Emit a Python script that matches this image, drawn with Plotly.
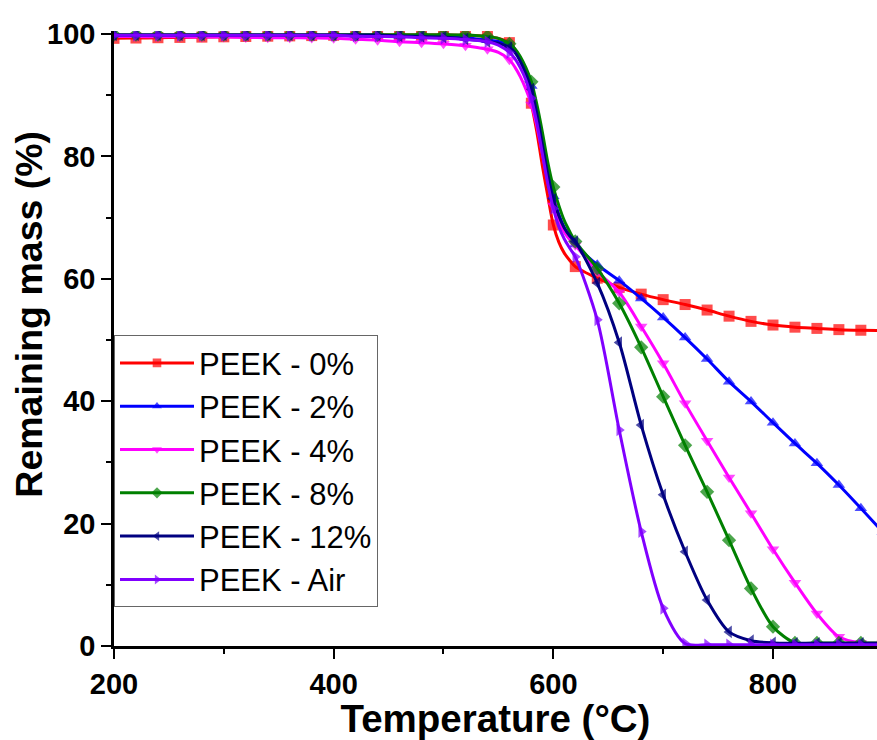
import plotly.graph_objects as go

temperature = [200, 220, 240, 260, 280, 300, 320, 340, 360, 380, 400, 420, 440, 460, 480, 500, 520, 540,
               550, 560, 565, 570, 575, 580, 585, 590, 595, 600, 605, 610, 615, 620,
               640, 660, 680, 700, 720, 740, 760, 780, 800, 820, 840, 860, 880, 900]

peek_0 = [99.3, 99.35, 99.4, 99.45, 99.5, 99.55, 99.6, 99.65, 99.7, 99.75, 99.8, 99.8, 99.85, 99.85, 99.85, 99.85, 99.8, 99.6,
          99.3, 98.6, 97.5, 96.0, 93.5, 88.7, 84.0, 78.5, 73.5, 68.8, 66.0, 64.2, 63.0, 62.0,
          60.1, 58.6, 57.5, 56.6, 55.8, 54.9, 53.9, 53.05, 52.45, 52.1, 51.9, 51.7, 51.6, 51.55]
peek_2 = [99.8, 99.8, 99.8, 99.8, 99.8, 99.8, 99.8, 99.8, 99.8, 99.8, 99.8, 99.8, 99.8, 99.7, 99.7, 99.6, 99.4, 99.0,
          98.8, 98.2, 97.3, 96.0, 94.0, 91.5, 87.5, 83.0, 77.5, 73.5, 70.5, 68.3, 66.8, 65.6,
          62.3, 59.7, 56.8, 53.7, 50.4, 46.9, 43.2, 39.95, 36.5, 33.1, 29.85, 26.3, 22.5, 18.6]
peek_4 = [99.6, 99.6, 99.55, 99.55, 99.5, 99.5, 99.45, 99.4, 99.4, 99.35, 99.3, 99.15, 99.0, 98.75, 98.6, 98.4, 98.1, 97.5,
          97.0, 95.8, 94.6, 93.0, 91.0, 88.5, 85.0, 80.5, 76.0, 72.0, 69.5, 67.6, 66.4, 65.5,
          61.2, 57.8, 52.2, 46.2, 39.65, 33.55, 27.55, 21.7, 15.8, 10.35, 5.3, 1.5, 0.5, 0.5]
peek_8 = [99.9, 99.9, 99.9, 99.9, 99.9, 99.9, 99.9, 99.9, 99.9, 99.9, 99.9, 99.9, 99.9, 99.9, 99.9, 99.9, 99.85, 99.6,
          99.3, 98.4, 97.6, 96.3, 94.5, 92.2, 88.5, 84.0, 79.0, 75.0, 72.0, 69.5, 67.7, 66.1,
          61.7, 56.0, 48.8, 40.75, 32.8, 25.2, 17.3, 9.4, 3.15, 0.5, 0.5, 0.5, 0.5, 0.5]
peek_12 = [99.85, 99.85, 99.85, 99.85, 99.85, 99.85, 99.85, 99.85, 99.85, 99.85, 99.85, 99.85, 99.85, 99.7, 99.6, 99.5, 99.2, 98.8,
           98.5, 97.8, 97.0, 95.5, 93.5, 91.0, 87.0, 82.0, 77.0, 73.0, 70.3, 68.3, 67.0, 66.1,
           59.3, 49.6, 36.1, 24.7, 15.4, 7.5, 2.3, 0.87, 0.5, 0.45, 0.45, 0.45, 0.45, 0.45]
peek_air = [99.8, 99.8, 99.8, 99.8, 99.8, 99.8, 99.8, 99.8, 99.8, 99.8, 99.8, 99.65, 99.6, 99.55, 99.4, 99.3, 99.1, 98.75,
            98.2, 97.0, 96.0, 94.5, 92.5, 89.5, 85.5, 80.5, 75.5, 71.5, 68.5, 66.5, 65.0, 63.6,
            53.3, 35.3, 18.7, 6.15, 0.4, 0.2, 0.2, 0.2, 0.2, 0.2, 0.2, 0.2, 0.2, 0.2]

series_names = ["PEEK - 0%", "PEEK - 2%", "PEEK - 4%", "PEEK - 8%", "PEEK - 12%", "PEEK - Air"]
series_values = [peek_0, peek_2, peek_4, peek_8, peek_12, peek_air]
colors = ["#FF0000", "#0000FF", "#FF00FF", "#008000", "#000080", "#8000FF"]
symbols = ["square", "triangle-up", "triangle-down", "diamond", "triangle-left", "triangle-right"]

x_title = "Temperature (°C)"
y_title = "Remaining mass (%)"

FONT = "Arial, Liberation Sans, sans-serif"

marker_sizes = [11 if t % 20 == 0 else 0 for t in temperature]

fig = go.Figure()
for name, vals, col, sym in zip(series_names, series_values, colors, symbols):
    fig.add_trace(go.Scatter(
        x=temperature, y=vals, name=name, mode="lines+markers",
        line=dict(color=col, width=3, shape="spline", smoothing=0.8),
        marker=dict(symbol=sym, size=marker_sizes, color=col, line=dict(width=0)),
    ))

axis_common = dict(
    showline=True, linecolor="black", linewidth=2.5, mirror=False,
    ticks="outside", ticklen=10, tickwidth=2, tickcolor="black",
    showgrid=False, zeroline=False,
    tickfont=dict(family=FONT, size=29, color="black", weight="bold"),
)

fig.update_layout(
    width=877, height=740,
    margin=dict(l=114, r=0, t=31, b=94),
    paper_bgcolor="white", plot_bgcolor="white",
    font=dict(family=FONT, color="black"),
    showlegend=True,
    legend=dict(
        x=0.0, y=0.063, xanchor="left", yanchor="bottom",
        bgcolor="white", bordercolor="#666666", borderwidth=1,
        font=dict(family=FONT, size=31, color="black"),
        itemwidth=74, tracegroupgap=0,
    ),
    annotations=[dict(
        text=y_title, textangle=-90, xref="paper", yref="paper",
        x=-0.1117, y=0.54, xanchor="center", yanchor="middle", showarrow=False,
        font=dict(family=FONT, size=37.5, color="black", weight="bold"),
    )],
)
fig.update_xaxes(
    range=[200, 894.7], tickmode="linear", tick0=200, dtick=200,
    minor=dict(tick0=200, dtick=100, ticklen=5, tickwidth=2, tickcolor="black", ticks="outside"),
    title=dict(text=x_title, font=dict(family=FONT, size=38.5, color="black", weight="bold"), standoff=3),
    **axis_common,
)
fig.update_yaxes(
    range=[0, 100.5], tickmode="linear", tick0=0, dtick=20,
    minor=dict(tick0=0, dtick=10, ticklen=5, tickwidth=2, tickcolor="black", ticks="outside"),
    **axis_common,
)

fig.write_html("out.html")
